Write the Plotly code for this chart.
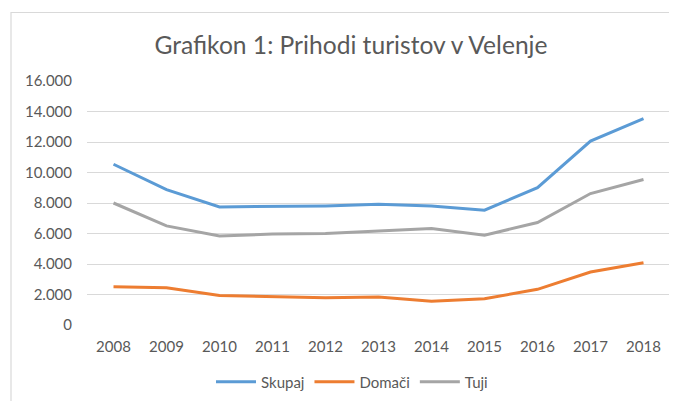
import plotly.graph_objects as go

years = ["2008", "2009", "2010", "2011", "2012", "2013", "2014", "2015", "2016", "2017", "2018"]
skupaj = [10540, 8880, 7740, 7790, 7810, 7920, 7810, 7530, 9010, 12060, 13530]
domaci = [2510, 2440, 1940, 1850, 1790, 1830, 1550, 1720, 2340, 3470, 4080]
tuji = [8000, 6500, 5830, 5960, 6000, 6150, 6330, 5890, 6720, 8620, 9540]

series = [("Skupaj", skupaj, "#5b9bd5"), ("Domači", domaci, "#ed7d31"), ("Tuji", tuji, "#a5a5a5")]

FONT = "Lato, 'Open Sans', sans-serif"

fig = go.Figure()
for name, vals, col in series:
    fig.add_trace(go.Scatter(x=years, y=vals, name=name, mode="lines",
                             line=dict(color=col, width=3)))

# page body has an 8px margin, so the figure is sized/positioned to compensate
OFF = 8
W, H = 677 - OFF, 401 - OFF
L, R, T, B = 87 - OFF, 7, 81 - OFF, 76
pw = W - L - R
ph = H - T - B

def px_x(x):
    return (x - OFF - L) / pw

def px_y(y):
    return (H - B - (y - OFF)) / ph

fig.update_layout(
    width=W, height=H,
    margin=dict(l=L, r=R, t=T, b=B, autoexpand=False),
    paper_bgcolor="white", plot_bgcolor="white",
    separators=",.",
    font=dict(family=FONT, color="#595959", size=15),
    title=dict(text="Grafikon 1: Prihodi turistov v Velenje", x=(351 - OFF) / W, xanchor="center",
               y=1 - (45 - OFF) / H, yanchor="middle",
               font=dict(family=FONT, size=24.6, color="#595959")),
    xaxis=dict(type="category", range=[-0.5, 10.5], showgrid=False, showline=False,
               zeroline=False, ticks="", ticklabelstandoff=11, automargin=False,
               tickfont=dict(size=15, color="#595959")),
    yaxis=dict(range=[0, 16000], dtick=2000, tickformat=",d", showgrid=True,
               gridcolor="#d9d9d9", gridwidth=1, zeroline=False, showline=False,
               ticks="", ticklabelstandoff=14, automargin=False,
               tickfont=dict(size=15, color="#595959")),
    legend=dict(orientation="h", x=px_x(352), xanchor="center", y=px_y(382), yanchor="middle",
                font=dict(size=15, color="#595959"), itemwidth=40, tracegroupgap=0),
    showlegend=True,
    shapes=[dict(type="rect", xref="paper", yref="paper",
                 x0=px_x(11), x1=px_x(700), y0=px_y(430), y1=px_y(12.5),
                 line=dict(color="#d9d9d9", width=1.2), layer="below")],
)

fig.write_html("out.html")
